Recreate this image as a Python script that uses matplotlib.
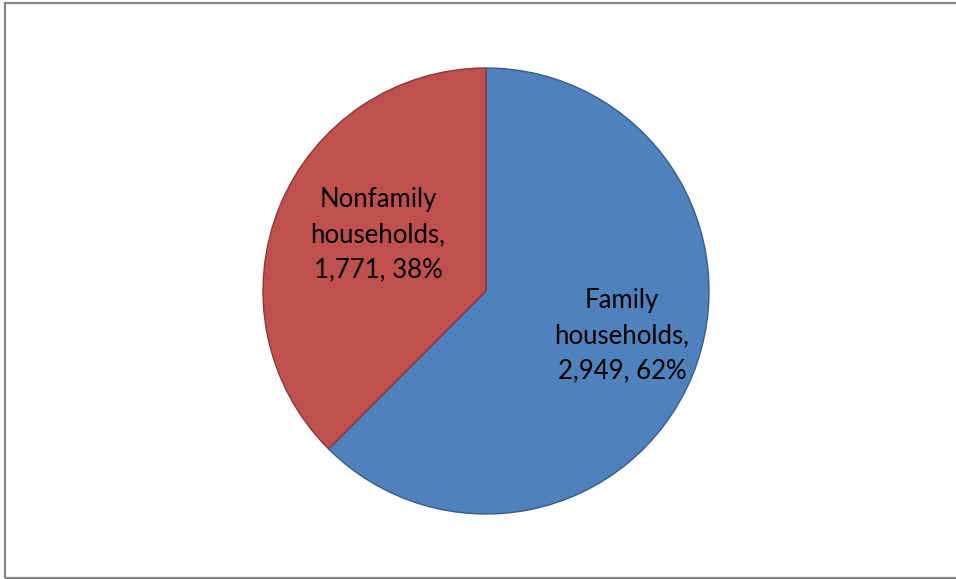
import matplotlib.pyplot as plt
from matplotlib.patches import Rectangle

# Data
categories = ["Family households", "Nonfamily households"]
counts = [2949, 1771]
percents = [62, 38]

colors = ["#4F81BD", "#C0504D"]
edges = ["#385D8A", "#8C3836"]

fig = plt.figure(figsize=(9.56, 5.79), dpi=100)

# chart border
fig.patches.append(Rectangle((5 / 956, 1 / 579), 1.0, 575 / 579, transform=fig.transFigure,
                             fill=False, edgecolor="#868686", linewidth=1.6))

cx, cy, r = 486, 291, 223
ax = fig.add_axes([(cx - r) / 956, (579 - cy - r) / 579, 2 * r / 956, 2 * r / 579])

labels = []
for name, n, p in zip(categories, counts, percents):
    first, second = name.split(" ")
    labels.append(f"{first}\n{second},\n{n:,}, {p}%")

wedges, texts = ax.pie(counts, labels=labels, colors=colors, startangle=90,
                       counterclock=False, labeldistance=0.6,
                       wedgeprops=dict(linewidth=1.0),
                       textprops=dict(fontsize=18.5, family="Lato", color="black",
                                      ha="center", va="center", linespacing=1.5))
for w, ec in zip(wedges, edges):
    w.set_edgecolor(ec)
for t in texts:
    t.set_ha("center")
# label placement like the original chart
texts[0].set_position((0.61, -0.20))
texts[1].set_position((-0.484, 0.253))
ax.set_xlim(-1, 1)
ax.set_ylim(-1, 1)
ax.set_aspect("equal")

fig.savefig("out.png", dpi=100)
